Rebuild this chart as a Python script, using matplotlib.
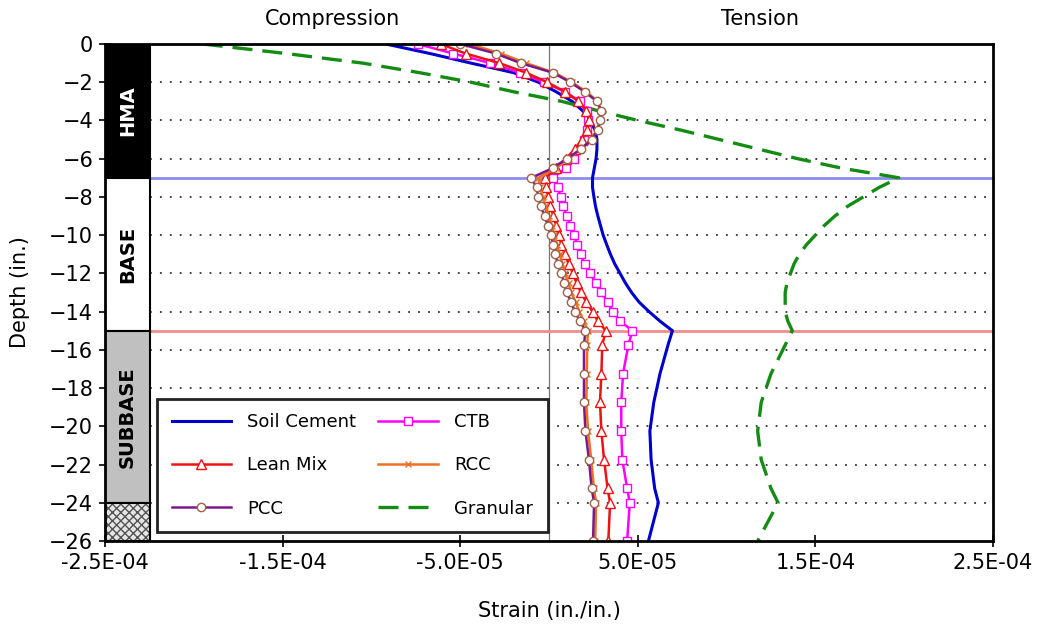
import matplotlib
matplotlib.use("Agg")
import matplotlib.pyplot as plt
from matplotlib.patches import Rectangle
from matplotlib.ticker import FuncFormatter
import numpy as np

plt.rcParams['font.family'] = ['DejaVu Sans']

# depth points (in.)
depth = [0, -0.5, -1, -1.5, -2, -2.5, -3, -3.5, -4, -4.5, -5, -5.5, -6, -6.5, -7,
         -7.5, -8, -8.5, -9, -9.5, -10, -10.5, -11, -11.5, -12, -12.5, -13, -13.5, -14, -14.5, -15,
         -15.75, -17.25, -18.75, -20.25, -21.75, -23.25, -24, -26]

# strain values in micro-strain (x1e-6)
soil_cement = [-92, -67, -44, -20, -6, 4, 13, 19, 23, 26, 27, 27, 26.5, 25.5, 24.5,
               24.5, 25.3, 26.2, 27.5, 29, 30.5, 32.5, 34.6, 37, 40, 43, 46.5, 50.7, 56.3, 62.5, 69.5,
               67, 62.5, 59, 56.8, 57.5, 59.5, 61.6, 56]
ctb = [-74, -54, -33, -16.5, -3, 9, 17.5, 21.5, 22, 21.4, 19.5, 16.7, 14, 9.4, 2,
       5, 6.5, 8, 10, 12, 14, 16, 17.8, 20, 23, 26.5, 29.5, 33, 36, 40, 47,
       44.7, 41.7, 40.7, 40.7, 41.3, 44, 45.5, 44]
lean_mix = [-61, -47, -28, -13, -1, 9, 16.5, 21, 22.5, 21.5, 18.5, 14.5, 9.5, 4, -2,
            -1.5, -0.5, 0.8, 2.5, 4, 5.5, 7, 9, 11, 13.5, 15.5, 18, 21, 24.5, 27.5, 32,
            30, 29.5, 28.7, 29.5, 31, 33, 34.4, 33.4]
rcc = [-45, -27, -13, 3, 13, 21, 27.5, 29, 28.5, 27, 23.5, 18, 11, 4, -6,
       -5, -3.5, -2, 0, 1.5, 3, 4.5, 6, 7.5, 9, 11, 12.5, 15, 17, 19.5, 22,
       21.5, 21.3, 21, 22, 23.8, 25.3, 26.5, 26]
pcc = [-50, -30, -16, 2, 12, 20, 27, 29.5, 29, 27.5, 24, 18, 10, 2, -10,
       -7, -6, -4.5, -2.5, -0.5, 1, 2.5, 3.5, 5, 7, 8.5, 10, 12.5, 14.5, 17.5, 20.5,
       19.7, 19.7, 19.7, 20.5, 22.5, 24, 25.4, 24.8]
granular = [-195, -148, -105, -73, -44, -20, 7, 28, 50, 74, 96, 118, 140, 165, 197,
            186, 177, 168, 161, 155, 150, 145, 141, 138, 136, 134, 133, 133, 133, 134.5, 137,
            133, 125, 119.5, 117.5, 119.5, 125, 129, 117.5]

# pavement layers: (name, top, bottom)
layers = [("HMA", 0, -7), ("BASE", -7, -15), ("SUBBASE", -15, -24), ("", -24, -26)]
xticks = [-2.5e-4, -1.5e-4, -5e-5, 5e-5, 1.5e-4, 2.5e-4]
yticks = list(range(0, -27, -2))

fig = plt.figure(figsize=(10.38, 6.3), dpi=100)
ax = fig.add_axes([0.1012, 0.1413, 0.8554, 0.7889])

xmin, xmax = -2.5e-4, 2.5e-4
band_r = -2.246e-4
ax.set_xlim(xmin, xmax)
ax.set_ylim(-26, 0)

# dotted grid lines
for yy in yticks[1:-1]:
    ax.plot([band_r, xmax], [yy, yy], color='#333333', lw=1.3,
            linestyle=(0, (1, 4.5)), zorder=1)

ax.axvline(0, color='#777777', lw=0.9, zorder=1)
ax.plot([band_r, xmax], [-7, -7], color='#8c8cf0', lw=2, zorder=1.5)
ax.plot([band_r, xmax], [-15, -15], color='#f08c8c', lw=2, zorder=1.5)

# layer band
fills = {"HMA": 'black', "BASE": 'white', "SUBBASE": '#c0c0c0'}
for name, top, bot in layers:
    if name:
        ax.add_patch(Rectangle((xmin, bot), band_r - xmin, top - bot,
                               facecolor=fills[name], edgecolor='black', lw=1.5, zorder=3))
        ax.text((xmin + band_r) / 2, (top + bot) / 2, name, rotation=90,
                ha='center', va='center', fontsize=14, fontweight='bold',
                color='white' if name == "HMA" else 'black', zorder=4)
    else:
        ax.add_patch(Rectangle((xmin, bot), band_r - xmin, top - bot,
                               facecolor='#e6e6e6', edgecolor='#555555', hatch='xxxx',
                               lw=0, zorder=3))
        ax.add_patch(Rectangle((xmin, bot), band_r - xmin, top - bot,
                               facecolor='none', edgecolor='black', lw=1.5, zorder=3.5))

d = np.array(depth)
s = 1e-6
ax.plot(np.array(soil_cement) * s, d, color='#0000cc', lw=2.2, label='Soil Cement', zorder=5)
ax.plot(np.array(granular) * s, d, color='#148c14', lw=2.4, dashes=(6, 3),
        label='Granular', zorder=5)
ax.plot(np.array(ctb) * s, d, color='#ff00ff', lw=1.8, marker='s', ms=5.5, mfc='white',
        mec='#ff00ff', mew=1, label='CTB', zorder=6)
ax.plot(np.array(lean_mix) * s, d, color='#ee1111', lw=1.8, marker='^', ms=7, mfc='white',
        mec='#ee1111', mew=1, label='Lean Mix', zorder=7)
ax.plot(np.array(rcc) * s, d, color='#f07020', lw=1.8, marker='x', ms=5, mec='#f07020',
        mew=1, label='RCC', zorder=8)
ax.plot(np.array(pcc) * s, d, color='#7a1a8a', lw=1.8, marker='o', ms=6, mfc='white',
        mec='#a0604a', mew=1, label='PCC', zorder=9)

handles, labels = ax.get_legend_handles_labels()
order = ['Soil Cement', 'Lean Mix', 'PCC', 'CTB', 'RCC', 'Granular']
hmap = dict(zip(labels, handles))
leg = ax.legend([hmap[k] for k in order], order, ncol=2, loc='lower left',
                bbox_to_anchor=(0.0586, 0.018, 0.44, 0.292), mode='expand',
                fontsize=13, frameon=True, fancybox=False, framealpha=1,
                edgecolor='#222222', handlelength=3.3, handletextpad=0.9,
                labelspacing=1.4, borderpad=0.8, borderaxespad=0)
leg.get_frame().set_linewidth(2)
leg.set_zorder(10)

ax.set_xticks(xticks)
ax.xaxis.set_major_formatter(FuncFormatter(lambda v, p: f"{v:.1E}"))
ax.set_yticks(yticks)
ax.tick_params(direction='inout', length=9, width=1.2, labelsize=15, pad=4)
for sp in ax.spines.values():
    sp.set_linewidth(2)
    sp.set_zorder(11)

ax.set_xlabel('Strain (in./in.)', fontsize=15, labelpad=20)
ax.set_ylabel('Depth (in.)', fontsize=15, labelpad=14)
fig.text(333 / 1038, 1 - 19 / 630, 'Compression', ha='center', va='center', fontsize=15)
fig.text(760 / 1038, 1 - 19 / 630, 'Tension', ha='center', va='center', fontsize=15)

fig.savefig('out.png', dpi=100)
